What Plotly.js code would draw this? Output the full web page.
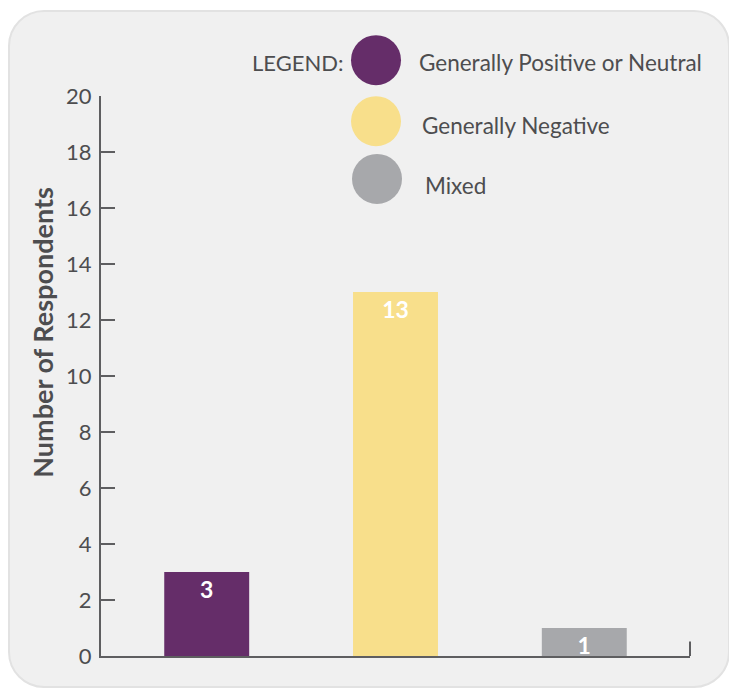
<!DOCTYPE html>
<html>
<head>
<meta charset="utf-8">
<script src="https://cdn.plot.ly/plotly-3.0.1.min.js"></script>
<style>
  html, body { margin: 0; padding: 0; background: #ffffff; }
  #wrap { position: relative; width: 729px; height: 692px; overflow: hidden; }
  #card { position: absolute; left: 8px; top: 10px; width: 722px; height: 678px;
          background: #f0f0f0; border: 2px solid #e2e2e2; border-radius: 36px; box-sizing: border-box; }
  #chart { position: absolute; left: 0; top: 0; width: 729px; height: 692px; }
</style>
</head>
<body>
<div id="wrap"><div id="card"></div><div id="chart"></div></div>
<script>
const categories = ["Generally Positive or Neutral", "Generally Negative", "Mixed"];
const respondents = [3, 13, 1];
const barColors = ["#652d69", "#f8df8b", "#a7a8ab"];
const yTicks = [0, 2, 4, 6, 8, 10, 12, 14, 16, 18, 20];
const yTitle = "Number of Respondents";

const textColor = "#4d4d4f";
const axisColor = "#5e5e60";
const fontFam = "Lato, 'Open Sans', sans-serif";

const trace = {
  type: "bar",
  x: categories,
  y: respondents,
  marker: { color: barColors },
  width: 0.45,
  text: respondents.map(String),
  texttemplate: "<b>%{text}</b>",
  textposition: "inside",
  insidetextanchor: "end",
  textangle: 0,
  constraintext: "none",
  textfont: { color: "#ffffff", size: 23, family: fontFam },
  hoverinfo: "x+y",
  showlegend: false
};

// legend geometry (paper coords)
const legendY = [1.064, 0.955, 0.852];
const legendTextY = [1.059, 0.948, 0.841];
const legendTextX = [0.5365, 0.5416, 0.5467];
const legendCircleX = [0.4669, 0.4669, 0.4686];

const shapes = categories.map((c, i) => ({
  type: "circle", xref: "paper", yref: "paper",
  xsizemode: "pixel", ysizemode: "pixel",
  xanchor: legendCircleX[i], yanchor: legendY[i],
  x0: -25, x1: 25, y0: -25, y1: 25,
  fillcolor: barColors[i], line: { width: 0 }
}));
// right-end tick of x axis
shapes.push({
  type: "line", xref: "paper", yref: "y",
  x0: 1, x1: 1, y0: 0, y1: 0.52,
  line: { color: axisColor, width: 2 }
});

const annotations = categories.map((c, i) => ({
  xref: "paper", yref: "paper", x: legendTextX[i], y: legendTextY[i],
  xanchor: "left", yanchor: "middle", showarrow: false,
  text: c, font: { size: 22.5, color: textColor, family: fontFam }
}));
annotations.push({
  xref: "paper", yref: "paper", x: 0.4143, y: 1.059,
  xanchor: "right", yanchor: "middle", showarrow: false,
  text: "LEGEND:", font: { size: 22, color: textColor, family: fontFam }
});
// y-axis title
annotations.push({
  xref: "paper", yref: "paper", x: -0.0985, y: 0.579,
  xanchor: "center", yanchor: "middle", showarrow: false, textangle: -90,
  text: "<b>" + yTitle + "</b>", font: { size: 27, color: textColor, family: fontFam }
});

const layout = {
  width: 729, height: 692,
  margin: { l: 101, r: 39, t: 96, b: 36, pad: 0 },
  paper_bgcolor: "rgba(0,0,0,0)",
  plot_bgcolor: "rgba(0,0,0,0)",
  font: { family: fontFam, color: textColor },
  bargap: 0.55,
  xaxis: {
    type: "category",
    range: [-0.56, 2.56],
    showticklabels: false,
    ticks: "",
    showgrid: false, zeroline: false,
    showline: true, linecolor: axisColor, linewidth: 2,
    fixedrange: true
  },
  yaxis: {
    range: [0, 20],
    tickvals: yTicks,
    ticks: "inside", ticklen: 14, tickwidth: 2, tickcolor: axisColor,
    ticklabelstandoff: 3,
    tickfont: { size: 22, color: textColor, family: fontFam },
    showgrid: false, zeroline: false,
    showline: true, linecolor: axisColor, linewidth: 2,
    automargin: false,
    fixedrange: true
  },
  shapes: shapes,
  annotations: annotations
};

Plotly.newPlot("chart", [trace], layout, { displayModeBar: false, staticPlot: true });
</script>
</body>
</html>
